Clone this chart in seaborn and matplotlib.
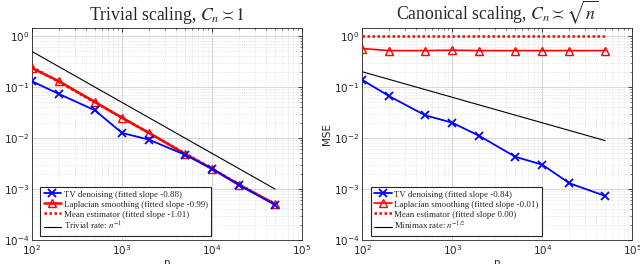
import numpy as np
import pandas as pd
import matplotlib
matplotlib.use("Agg")
import matplotlib.pyplot as plt
import seaborn as sns
from matplotlib.ticker import LogLocator, NullFormatter

sns.set_style("white")
plt.rcParams['font.family'] = ['DejaVu Sans']
plt.rcParams['mathtext.fontset'] = 'stix'

n_vals = [100, 200, 500, 1000, 2000, 5000, 10000, 20000, 50000]

# Left panel: trivial scaling
tv_left = [0.13, 0.073, 0.035, 0.0126, 0.0093, 0.0047, 0.0025, 0.0012, 0.00049]
lap_left = [0.235, 0.13, 0.051, 0.025, 0.0126, 0.0049, 0.0025, 0.0012, 0.00051]
mean_left = [0.25, 0.125, 0.05, 0.025, 0.0125, 0.005, 0.0025, 0.00124, 0.0005]
rate_left_n = [100, 50000]
rate_left = [0.5, 0.001]

# Right panel: canonical scaling
tv_right = [0.138, 0.066, 0.028, 0.020, 0.011, 0.0043, 0.003, 0.0013, 0.00073]
lap_right = [0.57, 0.52, 0.52, 0.53, 0.52, 0.52, 0.52, 0.52, 0.52]
mean_right = [1.0, 1.0, 1.0, 1.0, 1.0, 1.0, 1.0, 1.0, 1.0]
rate_right_n = [100, 50000]
rate_right = [0.2, 0.0089]

titles = [r"Trivial scaling, $C_n \asymp 1$", r"Canonical scaling, $C_n \asymp \sqrt{n}$"]
labels_left = ["TV denoising (fitted slope -0.88)", "Laplacian smoothing (fitted slope -0.99)",
               "Mean estimator (fitted slope -1.01)", r"Trivial rate: $n^{-1}$"]
labels_right = ["TV denoising (fitted slope -0.84)", "Laplacian smoothing (fitted slope -0.01)",
                "Mean estimator (fitted slope 0.00)", r"Minimax rate: $n^{-1/2}$"]

fig = plt.figure(figsize=(6.4, 2.64), dpi=100)
ax1 = fig.add_axes([0.050, 0.091, 0.422, 0.803])
ax2 = fig.add_axes([0.566, 0.091, 0.422, 0.803])

def panel(ax, tv, lap, mean, rn, rate, labels, title, lap_lw):
    ax.set_xscale('log'); ax.set_yscale('log')
    sns.lineplot(x=n_vals, y=mean, ax=ax, color='red', lw=1.8, linestyle=(0, (1, 1)), label=labels[2], zorder=3)
    sns.lineplot(x=n_vals, y=lap, ax=ax, color='red', lw=lap_lw, marker='^', markersize=6,
                 markerfacecolor='none', markeredgecolor='red', markeredgewidth=1.0, label=labels[1], zorder=4)
    sns.lineplot(x=n_vals, y=tv, ax=ax, color='blue', lw=1.3, marker='x', markersize=6,
                 markeredgewidth=1.3, markeredgecolor='blue', label=labels[0], zorder=5)
    sns.lineplot(x=rn, y=rate, ax=ax, color='black', lw=0.8, label=labels[3], zorder=2)
    ax.set_xlim(1e2, 1e5)
    ax.set_ylim(1e-4, 10**0.16)
    ax.xaxis.set_major_locator(LogLocator(base=10, numticks=10))
    ax.yaxis.set_major_locator(LogLocator(base=10, numticks=10))
    ax.xaxis.set_minor_locator(LogLocator(base=10, subs=np.arange(2, 10), numticks=20))
    ax.yaxis.set_minor_locator(LogLocator(base=10, subs=np.arange(2, 10), numticks=20))
    ax.xaxis.set_minor_formatter(NullFormatter())
    ax.yaxis.set_minor_formatter(NullFormatter())
    ax.grid(True, which='major', color='#cfcfcf', lw=0.6, linestyle='-')
    ax.grid(True, which='minor', color='#d5d5d5', lw=0.5, linestyle=':')
    ax.tick_params(which='both', direction='in', top=True, right=True, colors='#262626', labelsize=7.5)
    ax.tick_params(which='major', length=3, width=0.6, pad=2)
    ax.tick_params(which='minor', length=1.5, width=0.4)
    for s in ax.spines.values():
        s.set_color('#262626'); s.set_linewidth(0.6)
    ax.set_xlabel('n', fontsize=7.5, labelpad=1, color='#262626')
    ax.set_ylabel('MSE', fontsize=7.5, labelpad=1, color='#262626')
    ax.set_title(title, fontsize=12.7, family='Liberation Serif', pad=6)
    h, l = ax.get_legend_handles_labels()
    order = [l.index(x) for x in labels]
    leg = ax.legend([h[i] for i in order], [l[i] for i in order], loc='lower left',
                    prop={'family': 'Liberation Serif', 'size': 6.4},
                    frameon=True, fancybox=False, edgecolor='#262626', framealpha=1,
                    borderpad=0.35, labelspacing=0.2, handlelength=2.0, handletextpad=0.3,
                    borderaxespad=0.5, bbox_to_anchor=(0.015, 0.0))
    leg.get_frame().set_linewidth(0.8)

panel(ax1, tv_left, lap_left, mean_left, rate_left_n, rate_left, labels_left, titles[0], 1.8)
panel(ax2, tv_right, lap_right, mean_right, rate_right_n, rate_right, labels_right, titles[1], 1.2)

fig.savefig('out.png', dpi=100)
